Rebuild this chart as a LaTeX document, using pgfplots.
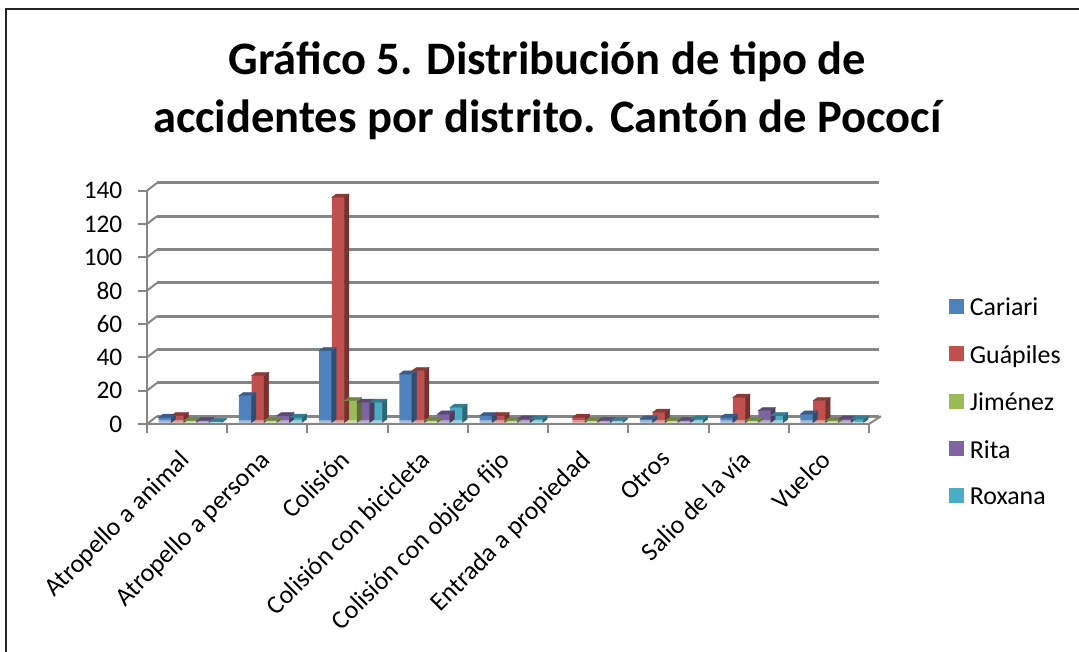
\documentclass[border=0pt]{standalone}
\usepackage{pgfplots}
\pgfplotsset{compat=1.18}
\usepackage{fontspec}
\setmainfont{Carlito}

\definecolor{cariari}{HTML}{4F81BD}
\definecolor{guapiles}{HTML}{C0504D}
\definecolor{jimenez}{HTML}{9BBB59}
\definecolor{rita}{HTML}{8064A2}
\definecolor{roxana}{HTML}{4BACC6}
\definecolor{wallgray}{HTML}{868686}

% x = category position, bars of one group are 0.158 apart
\pgfplotstableread{
x y
0.224 3
1.224 16
2.224 43
3.224 29
4.224 4
6.224 2
7.224 3
8.224 5
}\cariaridata
\pgfplotstableread{
x y
0.382 4
1.382 28
2.382 135
3.382 31
4.382 4
5.382 3
6.382 6
7.382 15
8.382 13
}\guapilesdata
\pgfplotstableread{
x y
0.54 1
1.54 1
2.54 13
3.54 1
4.54 1
5.54 1
6.54 1
7.54 1
8.54 1
}\jimenezdata
\pgfplotstableread{
x y
0.698 1
1.698 4
2.698 12
3.698 5
4.698 2
5.698 1
6.698 1
7.698 7
8.698 2
}\ritadata
\pgfplotstableread{
x y
0.856 0.5
1.856 3
2.856 12
3.856 9
4.856 2
5.856 1
6.856 2
7.856 4
8.856 2
}\roxanadata

\pgfdeclareplotmark{nomark}{}
\pgfplotsset{
  front/.style={ybar, bar width=9.4pt, bar shift=0pt, fill=#1, draw=none, yshift=1.2pt},
  depth/.style 2 args={
    forget plot, only marks, mark=nomark, scatter, point meta=y, yshift=1.2pt,
    visualization depends on={rawy \as \barval},
    scatter/@pre marker code/.code={
      \pgfmathsetmacro{\hh}{\barval*1.2502}
      \fill[#1] (4.7pt,0pt) -- (8pt,2.4pt) -- (8pt,-\hh pt+2.4pt) -- (4.7pt,-\hh pt) -- cycle;
      \fill[#2] (-4.7pt,0pt) -- (-1.4pt,2.4pt) -- (8pt,2.4pt) -- (4.7pt,0pt) -- cycle;
      \begin{scope}
    },
    scatter/@post marker code/.code={\end{scope}},
  },
}

\begin{document}
\begin{tikzpicture}
\path[use as bounding box] (0pt,0pt) rectangle (809.25pt,489pt);
% outer frame of the chart
\draw[black!85,line width=1.5pt] (4.5pt,0pt) -- (4.5pt,482pt) -- (809.25pt,482pt);
\node[font=\bfseries\fontsize{34.9}{34.9}\selectfont,align=center] at (410.5pt,421pt) {Gráfico 5. Distribución de tipo de\\[8.5pt]accidentes por distrito. Cantón de Pococí};

\begin{axis}[
  at={(110.25pt,171pt)}, anchor=south west,
  scale only axis, width=541.5pt, height=175pt,
  xmin=0, xmax=9, ymin=0, ymax=140,
  clip=false,
  axis line style={draw=none},
  xtick={0,...,9},
  xticklabels={},
  xtick pos=bottom, ytick pos=left,
  extra x ticks={0.5,1.5,2.5,3.5,4.5,5.5,6.5,7.5,8.5},
  extra x tick labels={Atropello a animal,Atropello a persona,Colisión,Colisión con bicicleta,Colisión con objeto fijo,Entrada a propiedad,Otros,Salio de la vía,Vuelco},
  extra x tick style={major tick length=0pt,tick label style={font=\fontsize{19.4}{19.4}\selectfont,rotate=45,anchor=north east,xshift=-14.5pt,yshift=-4.8pt}},
  ytick={0,20,...,140},
  tick style={wallgray,line width=1.5pt},
  major tick length=6.5pt,
  tick align=outside,
  ticklabel style={font=\fontsize{19}{19}\selectfont},
  /pgf/number format/assume math mode=true,
  y tick label style={xshift=-8.5pt},
  legend style={at={(1.1108,0.553)},anchor=north west,draw=none,fill=none,
    font=\fontsize{19.4}{19.4}\selectfont,row sep=16.7pt,inner sep=0pt},
  legend cell align=left,
  legend image code/.code={\path (13.5pt,0pt); \fill[#1] (0pt,-5.6pt) rectangle (11.25pt,5.6pt);},
]
% back wall, side wall and floor
\pgfplotsinvokeforeach{0,20,...,140}{
  \draw[wallgray,line width=2.2pt] (axis cs:0,#1)++(7.5pt,5.8pt) -- ++(541.5pt,0pt);
  \draw[wallgray,line width=1.5pt] (axis cs:0,#1) -- ++(7.5pt,5.8pt);
}
\draw[wallgray,line width=1.5pt] (axis cs:0,0) -- (axis cs:0,140);
\draw[wallgray,line width=1.5pt] (axis cs:0,0) -- (axis cs:9,0) -- ++(9pt,5.8pt);

\addplot[depth={cariari!60!black}{cariari!72!black}] table {\cariaridata};
\addplot[front=cariari] table {\cariaridata};
\addplot[depth={guapiles!62!black}{guapiles!72!black}] table {\guapilesdata};
\addplot[front=guapiles] table {\guapilesdata};
\addplot[depth={jimenez!60!black}{jimenez!72!black}] table {\jimenezdata};
\addplot[front=jimenez] table {\jimenezdata};
\addplot[depth={rita!60!black}{rita!72!black}] table {\ritadata};
\addplot[front=rita] table {\ritadata};
\addplot[depth={roxana!60!black}{roxana!72!black}] table {\roxanadata};
\addplot[front=roxana] table {\roxanadata};
% paler foot of the bars
\fill[white,opacity=.4] (axis cs:0.1,0)++(0pt,1.2pt) rectangle ++(525pt,2pt);
\legend{Cariari,Guápiles,Jiménez,Rita,Roxana}
\end{axis}
\end{tikzpicture}
\end{document}
